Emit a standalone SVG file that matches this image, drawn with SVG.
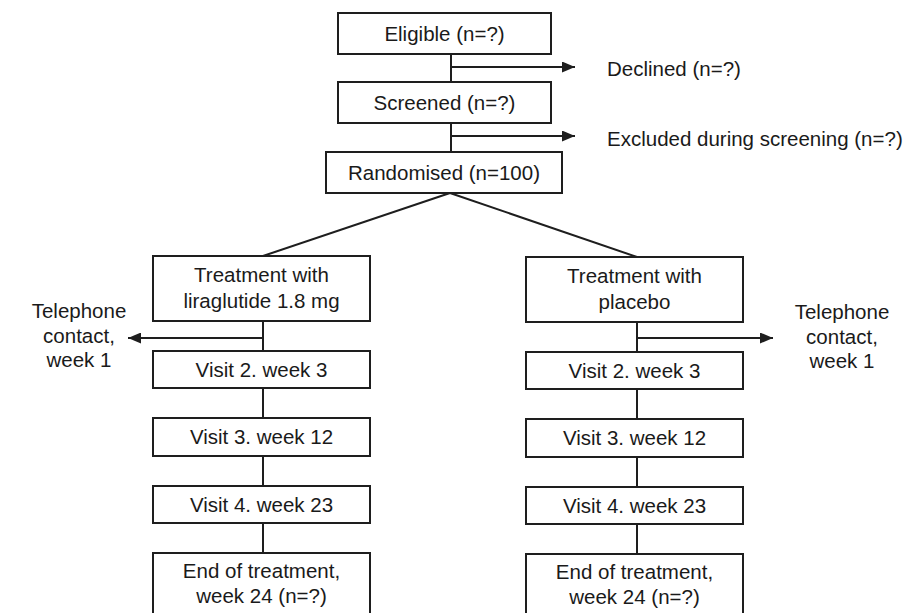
<svg xmlns="http://www.w3.org/2000/svg" width="906" height="613" viewBox="0 0 906 613">
<defs>
<style>
.box{fill:#fff;stroke:#1e1e1e;stroke-width:2}
.ln{fill:none;stroke:#1e1e1e;stroke-width:2}
text{font-family:"Liberation Sans",Arial,sans-serif;font-size:20.5px;fill:#1a1a1a}
.c{text-anchor:middle}
</style>
<marker id="ah" markerWidth="13" markerHeight="11" refX="13" refY="5.5" orient="auto" markerUnits="userSpaceOnUse">
<path d="M0,0 L13,5.5 L0,11 Z" fill="#1e1e1e"/>
</marker>
</defs>
<rect width="906" height="613" fill="#fff"/>
<g id="connectors">
<line class="ln" x1="451" y1="54" x2="451" y2="82"/>
<line class="ln" x1="451" y1="67" x2="575" y2="67" marker-end="url(#ah)"/>
<line class="ln" x1="451" y1="123" x2="451" y2="152"/>
<line class="ln" x1="451" y1="136" x2="575" y2="136" marker-end="url(#ah)"/>
<line class="ln" x1="450" y1="193" x2="263" y2="256"/>
<line class="ln" x1="450" y1="193" x2="637" y2="257"/>
<line class="ln" x1="263" y1="321" x2="263" y2="351"/>
<line class="ln" x1="263" y1="338" x2="128" y2="338" marker-end="url(#ah)"/>
<line class="ln" x1="263" y1="388" x2="263" y2="418"/>
<line class="ln" x1="263" y1="456" x2="263" y2="486"/>
<line class="ln" x1="263" y1="523" x2="263" y2="553"/>
<line class="ln" x1="637" y1="322" x2="637" y2="352"/>
<line class="ln" x1="637" y1="338" x2="773" y2="338" marker-end="url(#ah)"/>
<line class="ln" x1="637" y1="389" x2="637" y2="419"/>
<line class="ln" x1="637" y1="457" x2="637" y2="487"/>
<line class="ln" x1="637" y1="524" x2="637" y2="554"/>
</g>
<g id="eligible"><rect class="box" x="338" y="13" width="213" height="41"/><text class="c" x="444.5" y="41">Eligible (n=?)</text></g>
<g id="declined"><text x="607" y="76">Declined (n=?)</text></g>
<g id="screened"><rect class="box" x="338" y="82" width="213" height="41"/><text class="c" x="444.5" y="110">Screened (n=?)</text></g>
<g id="excluded"><text x="607" y="146">Excluded during screening (n=?)</text></g>
<g id="randomised"><rect class="box" x="326" y="152" width="236" height="41"/><text class="c" x="444" y="180">Randomised (n=100)</text></g>
<g id="treat-lira"><rect class="box" x="153" y="256" width="217" height="65"/><text class="c" x="261.5" y="282">Treatment with</text><text class="c" x="261.5" y="308">liraglutide 1.8 mg</text></g>
<g id="tel-left"><text class="c" x="79" y="318">Telephone</text><text class="c" x="79" y="343">contact,</text><text class="c" x="79" y="367">week 1</text></g>
<g id="visit2-left"><rect class="box" x="153" y="351" width="217" height="37"/><text class="c" x="261.5" y="377">Visit 2. week 3</text></g>
<g id="visit3-left"><rect class="box" x="153" y="418" width="217" height="38"/><text class="c" x="261.5" y="444">Visit 3. week 12</text></g>
<g id="visit4-left"><rect class="box" x="153" y="486" width="217" height="37"/><text class="c" x="261.5" y="512">Visit 4. week 23</text></g>
<g id="end-left"><rect class="box" x="153" y="553" width="217" height="80"/><text class="c" x="261.5" y="578">End of treatment,</text><text class="c" x="261.5" y="603">week 24 (n=?)</text></g>
<g id="treat-placebo"><rect class="box" x="526" y="257" width="217" height="65"/><text class="c" x="634.5" y="283">Treatment with</text><text class="c" x="634.5" y="309">placebo</text></g>
<g id="tel-right"><text class="c" x="842" y="319">Telephone</text><text class="c" x="842" y="344">contact,</text><text class="c" x="842" y="368">week 1</text></g>
<g id="visit2-right"><rect class="box" x="526" y="352" width="217" height="37"/><text class="c" x="634.5" y="378">Visit 2. week 3</text></g>
<g id="visit3-right"><rect class="box" x="526" y="419" width="217" height="38"/><text class="c" x="634.5" y="445">Visit 3. week 12</text></g>
<g id="visit4-right"><rect class="box" x="526" y="487" width="217" height="37"/><text class="c" x="634.5" y="513">Visit 4. week 23</text></g>
<g id="end-right"><rect class="box" x="526" y="554" width="217" height="80"/><text class="c" x="634.5" y="579">End of treatment,</text><text class="c" x="634.5" y="604">week 24 (n=?)</text></g>
</svg>
